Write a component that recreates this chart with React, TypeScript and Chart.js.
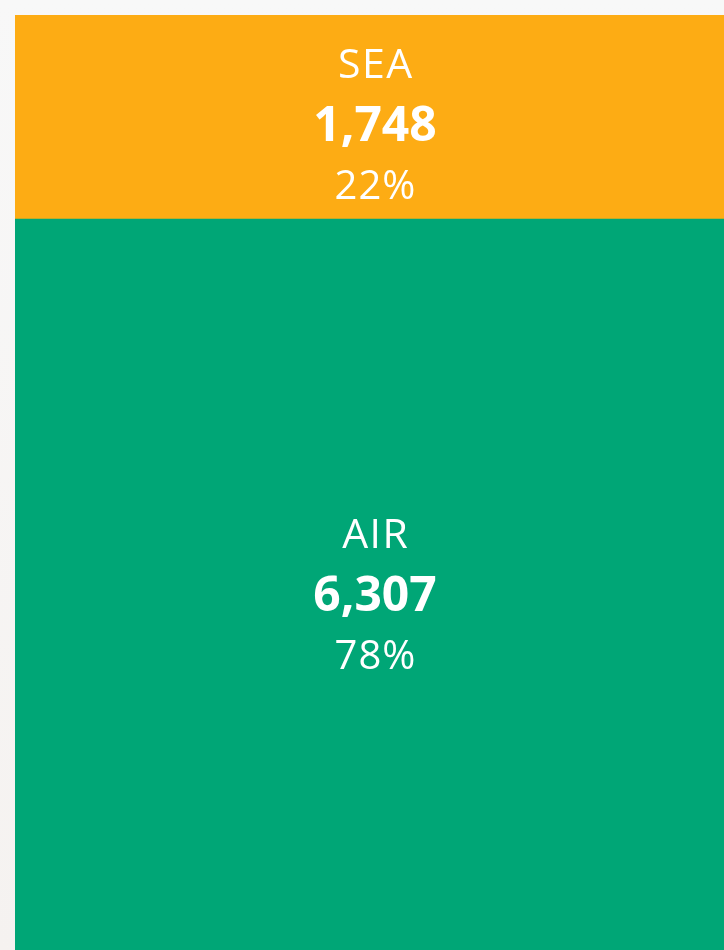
import React, { useEffect, useRef } from "react";
import { Chart, registerables } from "chart.js";

Chart.register(...registerables);

const categories = ["AIR", "SEA"];
const values = [6307, 1748];
const colors = ["#00A676", "#FDAC14"];

const total = values.reduce((a, b) => a + b, 0);

function spacedText(ctx: any, text: string, x: number, y: number, spacing: number) {
  ctx.letterSpacing = spacing + "px";
  ctx.fillText(text, x + spacing / 2, y);
  ctx.letterSpacing = "0px";
}

const labelPlugin = {
  id: "treemapLabels",
  afterDatasetsDraw(chart: any) {
    const ctx = chart.ctx;
    ctx.save();
    ctx.fillStyle = "#ffffff";
    ctx.textAlign = "center";
    ctx.textBaseline = "alphabetic";
    chart.data.datasets.forEach((ds: any, i: number) => {
      const meta = chart.getDatasetMeta(i);
      const el = meta.data[0];
      if (!el) return;
      const cx = el.x;
      const cy = (el.y + el.base) / 2;
      const v = ds.data[0];
      const pct = Math.round((v / total) * 100) + "%";
      ctx.font = "400 41px 'Open Sans'";
      spacedText(ctx, ds.label, cx, cy - 39, 1.5);
      ctx.font = "700 48px 'Open Sans'";
      spacedText(ctx, v.toLocaleString("en-US"), cx, cy + 24, 0);
      ctx.font = "400 40px 'Open Sans'";
      spacedText(ctx, pct, cx, cy + 82, 1);
    });
    ctx.restore();
  },
};

export default function App() {
  const ref = useRef<HTMLCanvasElement | null>(null);
  useEffect(() => {
    if (!ref.current) return;
    const chart = new Chart(ref.current, {
      type: "bar",
      data: {
        labels: ["Total"],
        datasets: categories.map((c, i) => ({
          label: c,
          data: [values[i]],
          backgroundColor: colors[i],
          borderWidth: 0,
          barPercentage: 1,
          categoryPercentage: 1,
        })),
      },
      options: {
        animation: false,
        responsive: true,
        maintainAspectRatio: false,
        layout: { padding: 0 },
        plugins: { legend: { display: false }, tooltip: { enabled: false } },
        scales: {
          x: { stacked: true, display: false },
          y: { stacked: true, display: false, min: 0, max: total },
        },
      },
      plugins: [labelPlugin],
    });
    return () => chart.destroy();
  }, []);
  return (
    <div
      style={{
        position: "fixed",
        left: 0,
        top: 0,
        width: 724,
        height: 950,
        overflow: "hidden",
        background: "linear-gradient(180deg, #f8f8f8 0%, #f5f2f0 100%)",
      }}
    >
      <div style={{ position: "absolute", left: 15, top: 15, width: 720, height: 940 }}>
        <canvas ref={ref} />
      </div>
    </div>
  );
}
